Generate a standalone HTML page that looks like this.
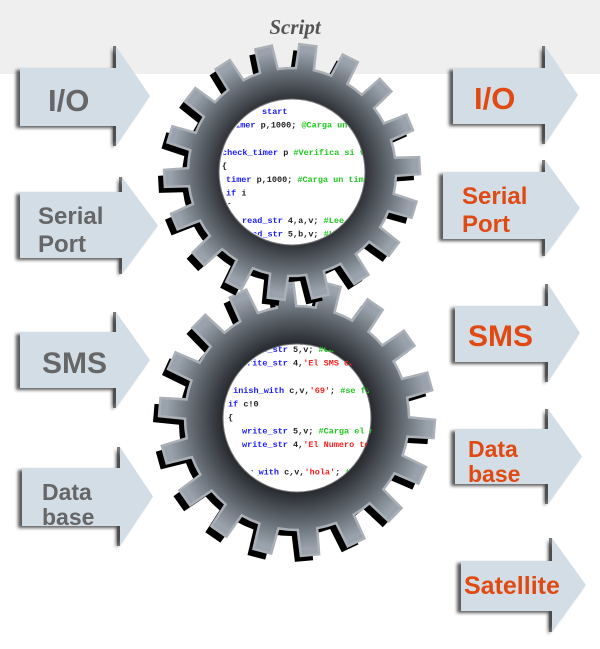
<!DOCTYPE html>
<html><head><meta charset="utf-8"><style>
html,body{margin:0;padding:0;background:#fff}
svg{display:block}
.lt{font-family:"Liberation Sans",sans-serif;font-weight:bold;fill:#666}
.rt{font-family:"Liberation Sans",sans-serif;font-weight:bold;fill:#e04a12}
.code{font-family:"Liberation Mono",monospace;font-weight:bold;font-size:8.5px}
.b{fill:#1a1aff}.g{fill:#1ec81e}.r{fill:#ff2020}.k{fill:#222}
</style></head><body>
<svg id="s" width="600" height="649" viewBox="0 0 600 649" xmlns="http://www.w3.org/2000/svg">
<defs>
<filter id="sh" x="-20%" y="-20%" width="140%" height="140%"><feGaussianBlur stdDeviation="1.5"/></filter>
<radialGradient id="gg" cx="0.5" cy="0.5" r="0.5">
<stop offset="0.55" stop-color="#2a2d32"/><stop offset="0.75" stop-color="#5f666e"/><stop offset="0.95" stop-color="#9aa3ad"/>
</radialGradient>
<clipPath id="c1"><circle cx="293" cy="172" r="72"/></clipPath>
<clipPath id="c2"><circle cx="300" cy="416" r="73"/></clipPath>
</defs>
<rect x="0" y="0" width="600" height="74" fill="#efefef"/>
<text x="295" y="34" text-anchor="middle" font-family="Liberation Serif,serif" font-style="italic" font-weight="bold" font-size="21" fill="#555">Script</text>
<g id="arrows"></g>
<g id="gears"></g>
<text x="48" y="111" class="lt" font-size="31">I/O</text>
<text x="38" y="224" class="lt" font-size="24">Serial</text>
<text x="38" y="252" class="lt" font-size="24">Port</text>
<text x="42" y="373" class="lt" font-size="30">SMS</text>
<text x="42" y="500" class="lt" font-size="23">Data</text>
<text x="42" y="525" class="lt" font-size="23">base</text>
<text x="474" y="109" class="rt" font-size="31">I/O</text>
<text x="462" y="204" class="rt" font-size="24">Serial</text>
<text x="462" y="232" class="rt" font-size="24">Port</text>
<text x="468" y="346" class="rt" font-size="30">SMS</text>
<text x="468" y="457" class="rt" font-size="23">Data</text>
<text x="468" y="482" class="rt" font-size="23">base</text>
<text x="464" y="594" class="rt" font-size="25">Satellite</text>
</svg>
<script>
(function(){
var NS="http://www.w3.org/2000/svg";
function el(t,a,p){var e=document.createElementNS(NS,t);for(var k in a)e.setAttribute(k,a[k]);p.appendChild(e);return e;}
var A=document.getElementById('arrows');
var arr=[[20,116,150,68,126,46,146],[20,122,158,192,258,177,274],[20,116,150,332,388,312,408],[22,120,153,468,526,447,546],
[453,545,578,68,124,46,144],[443,545,580,172,239,160,256],[455,548,580,306,362,284,382],[455,548,582,429,484,409,504],[461,552,586,561,611,538,632]];
arr.forEach(function(a){
 var cy=(a[5]+a[6])/2;
 var pts=[[a[0],a[3]],[a[1],a[3]],[a[1],a[5]],[a[2],cy],[a[1],a[6]],[a[1],a[4]],[a[0],a[4]]];
 var s=pts.map(function(p){return p.join(',')}).join(' ');
 el('polygon',{points:pts.map(function(p){return (p[0]-4)+','+(p[1]+2)}).join(' '),fill:'#333',filter:'url(#sh)',opacity:'0.8'},A);
 el('polygon',{points:s,fill:'#d3dde6'},A);
 el('rect',{x:a[1]-3,y:a[5],width:3,height:a[3]-a[5],fill:'#444',opacity:'0.7'},A);
 el('rect',{x:a[1]-3,y:a[4],width:3,height:a[6]-a[4],fill:'#444',opacity:'0.7'},A);
});
function gear(cx,cy,R,r,n,rot){
 var d='',step=Math.PI*2/n;
 for(var i=0;i<n;i++){
  var a0=rot+i*step;
  var p=[[r,a0-step*0.5],[r,a0-step*0.25],[R,a0-step*0.19],[R,a0+step*0.19],[r,a0+step*0.25]];
  p.forEach(function(q,j){d+=(i==0&&j==0?'M':'L')+(cx+q[0]*Math.cos(q[1])).toFixed(1)+','+(cy+q[0]*Math.sin(q[1])).toFixed(1);});
 }
 return d+'Z';
}
var G=document.getElementById('gears');
function drawGear(cx,cy,R,r,h,n,rot,clip,lines,x0,y0){
 var d=gear(cx,cy,R,r,n,rot);
 var g=el('g',{},G);
 el('path',{d:d,fill:'#000',transform:'translate(-6,6)'},g);
 el('path',{d:d,fill:'url(#gg)',stroke:'#aab0b6','stroke-width':'2.5'},g);
 el('circle',{cx:cx,cy:cy,r:h+1,fill:'#fff',stroke:'#777','stroke-width':'1'},g);
 var t=el('g',{'clip-path':'url(#'+clip+')'},g);
 lines.forEach(function(L,i){
  if(!L.length)return;
  var tx=el('text',{x:x0+L[0],y:y0+i*13.6,'class':'code'},t);
  for(var j=1;j<L.length;j+=2){var s=el('tspan',{'class':L[j]},tx);s.textContent=L[j+1];}
 });
}
var topL=[[40,'b','start'],[8,'k','t','b','imer ','k','p,1000; ','g','@Carga un timer'],[],[0,'b','check_timer ','k','p ','g','#Verifica si vencio el'],[0,'k','{'],[4,'b','timer ','k','p,1000; ','g','#Carga un timer de 1000'],[4,'b','if ','k','i'],[4,'k','{'],[20,'b','read_str ','k','4,a,v; ','g','#Lee texto de SMS'],[20,'b','read_str ','k','5,b,v; ','g','#Lee número tel'],[20,'k','};'],[20,'b','if ','k','a!0 ','g','#Si la longitud del texto'],[14,'b','contains ','k','c,v,','r',"'como'",'k','; ','g','#busca'],[14,'b','strlen ','k','q,v; ','g','#guarda la l'],[20,'b','write_str ','k','v; ','g','#busca']];
var botL=[[14,'b','write_str ','k','5,v; ','g','#Carga el'],[14,'b','write_str ','k','4,','r',"'El SMS contiene"],[],[0,'b','finish_with ','k','c,v,','r',"'69'",'k','; ','g','#se fija si el'],[0,'b','if ','k','c!0'],[0,'k','{'],[14,'b','write_str ','k','5,v;  ','g','#Carga el número'],[14,'b','write_str ','k','4,','r',"'El Numero telefonico"],[0,'k','};'],[0,'b','begin_with ','k','c,v,','r',"'hola'",'k','; ','g','#se fija si el'],[0,'b','if ','k','c!0'],[0,'k','{'],[14,'b','write_str ','k','5,v; ','g','#Carga el número'],[14,'b','write_str ','k','4,','r',"'El SMS enviado"]];
drawGear(297,418,138,112,73,18,0.08,'c2',botL,228,352);
drawGear(292,172,128,104,72,18,-0.05,'c1',topL,222,114);
})();
</script>
</body></html>
